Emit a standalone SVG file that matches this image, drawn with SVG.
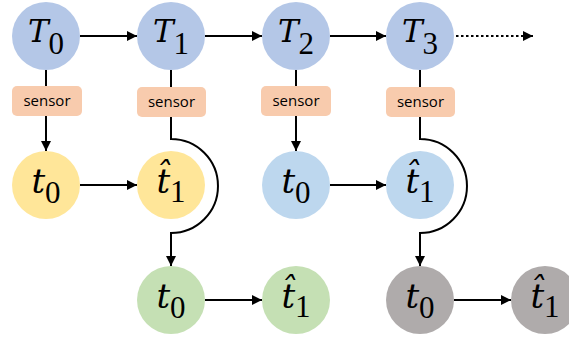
<svg xmlns="http://www.w3.org/2000/svg" width="569" height="340" viewBox="0 0 569 340">
<style>
.top{fill:#b4c7e7}
.yel{fill:#ffe699}
.lb{fill:#bdd7ee}
.gr{fill:#c5e0b4}
.gy{fill:#afabab}
.sen{fill:#f8cbad}
.st{font-family:"Open Sans","Liberation Sans",sans-serif;font-size:15px;fill:#000;text-anchor:middle}
.m{font-family:"Liberation Serif",serif;text-anchor:middle;fill:#000}
.cT{font-family:"DejaVu Serif",serif;font-style:italic;font-size:31px}
.ct{font-family:"DejaVu Serif",serif;font-style:italic;font-size:34px}
.cd{font-family:"Liberation Serif",serif;font-size:31px}
.ln{stroke:#000;stroke-width:2;fill:none}
</style>
<defs>
<marker id="ah" viewBox="0 0 10 10" refX="10" refY="5" markerWidth="5.5" markerHeight="5" orient="auto" markerUnits="strokeWidth">
<path d="M0,0 L10,5 L0,10 z" fill="#000"/>
</marker>
</defs>
<g id="connectors">
<line class="ln" x1="80" y1="36" x2="137" y2="36" marker-end="url(#ah)"/>
<line class="ln" x1="205" y1="36" x2="262" y2="36" marker-end="url(#ah)"/>
<line class="ln" x1="330" y1="36" x2="386" y2="36" marker-end="url(#ah)"/>
<line class="ln" x1="456" y1="36" x2="533" y2="36" stroke-width="2.5" stroke-dasharray="2.5,2.5" marker-end="url(#ah)"/>
<line class="ln" x1="46" y1="70" x2="46" y2="86"/>
<line class="ln" x1="171" y1="70" x2="171" y2="87"/>
<line class="ln" x1="296" y1="70" x2="296" y2="86"/>
<line class="ln" x1="420" y1="70" x2="420" y2="87"/>
<line class="ln" x1="46" y1="116" x2="46" y2="151" marker-end="url(#ah)"/>
<line class="ln" x1="296" y1="116" x2="296" y2="151" marker-end="url(#ah)"/>
<path class="ln" d="M171,117 V139 A47,47 0 0 1 171,233 V266" marker-end="url(#ah)"/>
<path class="ln" d="M420,117 V139 A47,47 0 0 1 420,233 V266" marker-end="url(#ah)"/>
<line class="ln" x1="80" y1="185" x2="137" y2="185" marker-end="url(#ah)"/>
<line class="ln" x1="330" y1="185" x2="386" y2="185" marker-end="url(#ah)"/>
<line class="ln" x1="205" y1="300" x2="262" y2="300" marker-end="url(#ah)"/>
<line class="ln" x1="454" y1="300" x2="511" y2="300" marker-end="url(#ah)"/>
</g>
<g id="T0"><circle class="top" cx="46" cy="36" r="34"/><text class="m" x="46" y="42"><tspan class="cT">T</tspan><tspan class="cd" dy="12">0</tspan></text></g>
<g id="T1"><circle class="top" cx="171" cy="36" r="34"/><text class="m" x="171" y="42"><tspan class="cT">T</tspan><tspan class="cd" dy="12">1</tspan></text></g>
<g id="T2"><circle class="top" cx="296" cy="36" r="34"/><text class="m" x="296" y="42"><tspan class="cT">T</tspan><tspan class="cd" dy="12">2</tspan></text></g>
<g id="T3"><circle class="top" cx="420" cy="36" r="34"/><text class="m" x="420" y="42"><tspan class="cT">T</tspan><tspan class="cd" dy="12">3</tspan></text></g>
<g id="sensor0"><rect class="sen" x="12" y="86" width="70" height="30" rx="5"/><text class="st" x="47" y="106">sensor</text></g>
<g id="sensor1"><rect class="sen" x="137" y="87" width="69" height="30" rx="5"/><text class="st" x="171.5" y="107">sensor</text></g>
<g id="sensor2"><rect class="sen" x="261" y="86" width="70" height="30" rx="5"/><text class="st" x="296" y="106">sensor</text></g>
<g id="sensor3"><rect class="sen" x="386" y="87" width="69" height="30" rx="5"/><text class="st" x="420.5" y="107">sensor</text></g>
<g id="y_t0"><circle class="yel" cx="46" cy="185" r="34"/><text class="m" x="46" y="193"><tspan class="ct">t</tspan><tspan class="cd" dy="10">0</tspan></text></g>
<g id="y_t1"><circle class="yel" cx="171" cy="185" r="34"/><text class="m" x="171" y="193"><tspan class="ct">t&#x302;</tspan><tspan class="cd" dy="9">1</tspan></text></g>
<g id="b_t0"><circle class="lb" cx="296" cy="185" r="34"/><text class="m" x="296" y="193"><tspan class="ct">t</tspan><tspan class="cd" dy="10">0</tspan></text></g>
<g id="b_t1"><circle class="lb" cx="420" cy="185" r="34"/><text class="m" x="420" y="193"><tspan class="ct">t&#x302;</tspan><tspan class="cd" dy="9">1</tspan></text></g>
<g id="g_t0"><circle class="gr" cx="171" cy="300" r="34"/><text class="m" x="171" y="308"><tspan class="ct">t</tspan><tspan class="cd" dy="10">0</tspan></text></g>
<g id="g_t1"><circle class="gr" cx="296" cy="300" r="34"/><text class="m" x="296" y="308"><tspan class="ct">t&#x302;</tspan><tspan class="cd" dy="9">1</tspan></text></g>
<g id="k_t0"><circle class="gy" cx="420" cy="300" r="34"/><text class="m" x="420" y="308"><tspan class="ct">t</tspan><tspan class="cd" dy="10">0</tspan></text></g>
<g id="k_t1"><circle class="gy" cx="545" cy="300" r="34"/><text class="m" x="545" y="308"><tspan class="ct">t&#x302;</tspan><tspan class="cd" dy="9">1</tspan></text></g>
</svg>
